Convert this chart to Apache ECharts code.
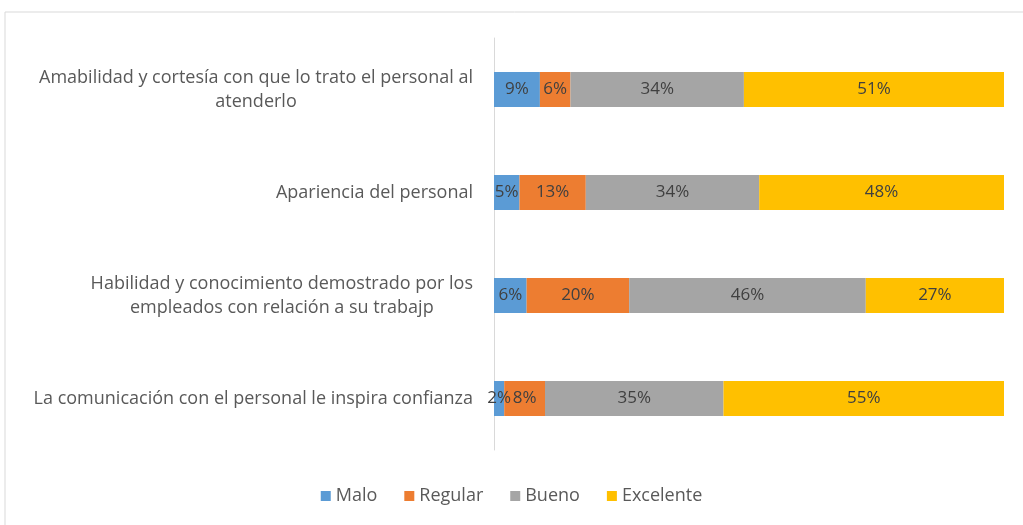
<!DOCTYPE html>
<html>
<head>
<meta charset="utf-8">
<script src="https://cdn.jsdelivr.net/npm/echarts@6/dist/echarts.min.js"></script>
<style>
  html, body { margin: 0; padding: 0; background: #fff; }
  #chart { width: 1023px; height: 525px; }
</style>
</head>
<body>
<div id="chart"></div>
<script>
  // categorias (de arriba hacia abajo)
  var categorias = [
    'Amabilidad y cortesía con que lo trato el personal al\natenderlo',
    'Apariencia del personal',
    'Habilidad y conocimiento demostrado por los\nempleados con relación a su trabajp',
    'La comunicación con el personal le inspira confianza'
  ];
  var malo      = [9, 5, 6.4, 2];
  var regular   = [6, 13, 20.1, 8];
  var bueno     = [34, 34, 46.4, 35];
  var excelente = [51, 48, 27.1, 55];

  var colores = ['#5B9BD5', '#ED7D31', '#A5A5A5', '#FFC000'];
  var fuente = '"Open Sans", sans-serif';

  var myChart = echarts.init(document.getElementById('chart'));

  function serie(nombre, datos) {
    return {
      name: nombre,
      type: 'bar',
      stack: 'total',
      barWidth: 35,
      data: datos,
      label: {
        show: true,
        position: 'inside',
        color: '#404040',
        fontFamily: fuente,
        fontSize: 17,
        formatter: function (p) { return Math.round(p.value) + '%'; }
      }
    };
  }

  myChart.setOption({
    animation: false,
    color: colores,
    graphic: [{
      type: 'rect',
      shape: { x: 5, y: 12, width: 1040, height: 540 },
      style: { fill: 'none', stroke: '#d9d9d9', lineWidth: 1 },
      silent: true
    }],
    grid: { left: 494, right: 19, top: 38, bottom: 75 },
    legend: {
      bottom: 15,
      left: 'center',
      itemWidth: 10,
      itemHeight: 10,
      itemGap: 27,
      icon: 'rect',
      textStyle: { color: '#595959', fontFamily: fuente, fontSize: 18 },
      data: ['Malo', 'Regular', 'Bueno', 'Excelente']
    },
    xAxis: {
      type: 'value',
      min: 0,
      max: 100,
      show: false
    },
    yAxis: {
      type: 'category',
      inverse: true,
      data: categorias,
      axisLine: { show: true, lineStyle: { color: '#d9d9d9' } },
      axisTick: { show: false },
      axisLabel: {
        margin: 21,
        color: '#595959',
        fontFamily: fuente,
        fontSize: 18,
        lineHeight: 24,
        formatter: function (v) {
          return v.split('\n').map(function (l) { return '{c|' + l + '}'; }).join('\n');
        },
        rich: { c: { align: 'center', color: '#595959', fontFamily: fuente, fontSize: 18, lineHeight: 24 } }
      }
    },
    series: [
      serie('Malo', malo),
      serie('Regular', regular),
      serie('Bueno', bueno),
      serie('Excelente', excelente)
    ]
  });
</script>
</body>
</html>
